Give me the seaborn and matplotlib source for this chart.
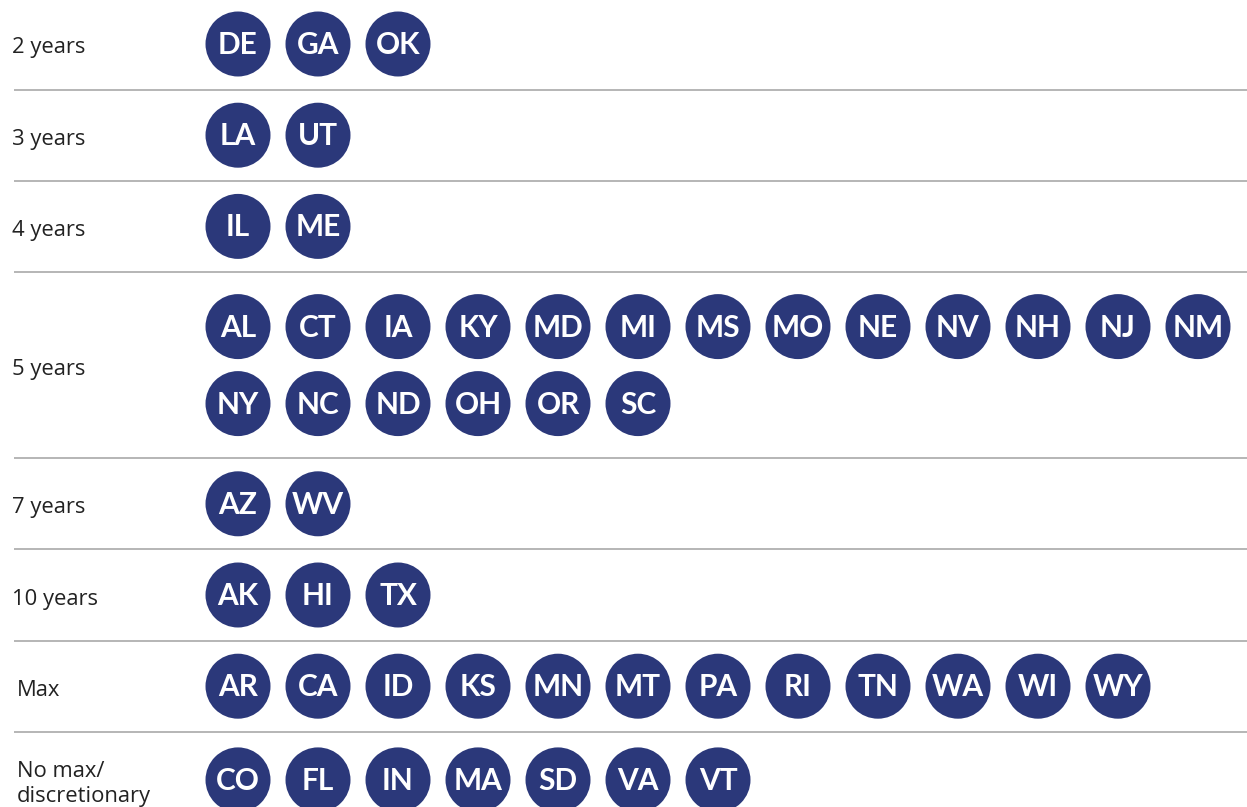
import seaborn as sns
import matplotlib.pyplot as plt
import pandas as pd

# dados: período máximo por estado
categorias = ["2 years", "3 years", "4 years", "5 years", "7 years",
              "10 years", "Max", "No max/\ndiscretionary"]
estados = [
    ["DE", "GA", "OK"],
    ["LA", "UT"],
    ["IL", "ME"],
    ["AL", "CT", "IA", "KY", "MD", "MI", "MS", "MO", "NE", "NV", "NH", "NJ", "NM",
     "NY", "NC", "ND", "OH", "OR", "SC"],
    ["AZ", "WV"],
    ["AK", "HI", "TX"],
    ["AR", "CA", "ID", "KS", "MN", "MT", "PA", "RI", "TN", "WA", "WI", "WY"],
    ["CO", "FL", "IN", "MA", "SD", "VA", "VT"],
]

cor = "#2b387a"
por_linha = 13
x0, dx = 238, 80
y_sub = 77        # distância entre linhas quebradas

# monta posições
linhas = []
centros = []
separadores = []
topo = -1.6
for k, (cat, lista) in enumerate(zip(categorias, estados)):
    n_sub = (len(lista) - 1) // por_linha + 1
    pad = 45.6 + 9 * (n_sub - 1)
    if k == len(categorias) - 1:
        pad += 2.5  # última linha um pouco mais baixa
    y = topo + pad
    for i, s in enumerate(lista):
        linhas.append({"cat": cat, "estado": s,
                       "x": x0 + (i % por_linha) * dx,
                       "y": y + (i // por_linha) * y_sub})
    centros.append(y + (n_sub - 1) * y_sub / 2)
    topo = y + (n_sub - 1) * y_sub + pad
    separadores.append(topo)
df = pd.DataFrame(linhas)

fig = plt.figure(figsize=(12.47, 8.07), dpi=100)
ax = fig.add_axes([0, 0, 1, 1])
sns.scatterplot(data=df, x="x", y="y", s=2190, color=cor, edgecolor="none",
                legend=False, ax=ax)

for _, r in df.iterrows():
    ax.text(r["x"], r["y"] + 1, r["estado"], color="white", fontsize=21.5,
            fontweight="bold", family="Lato", ha="center", va="center")

for k, (cat, yc) in enumerate(zip(categorias, centros)):
    xl = 17 if k >= 6 else 12
    ax.text(xl, yc + 4, cat, fontsize=15.8, family="Open Sans", color="#222222",
            ha="left", va="center", linespacing=1.2)

ax.hlines(separadores[:-1], 14, 1247, color="#b0b0b0", lw=1.3)

ax.set_xlim(0, 1247)
ax.set_ylim(807, 0)
ax.axis("off")
fig.savefig("out.png", dpi=100)
